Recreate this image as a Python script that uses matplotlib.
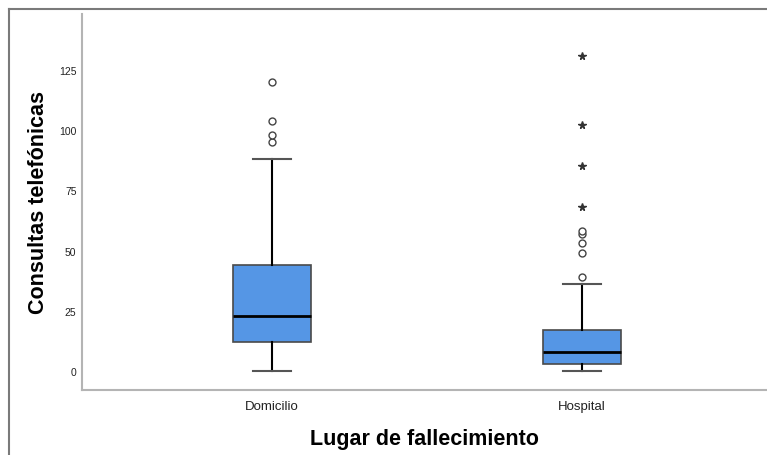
import matplotlib.pyplot as plt
from matplotlib.lines import Line2D

# groups and summary values for each box
grupos = ["Domicilio", "Hospital"]
q1 = [12, 3]
mediana = [23, 8]
q3 = [44, 17]
bigote_inf = [0, 0]
bigote_sup = [88, 36]
# outliers (circles) and extreme values (stars)
atipicos = [[95, 98, 104, 120], [39, 49, 53, 57, 58]]
extremos = [[], [68, 85, 102, 131]]
yticks = [0, 25, 50, 75, 100, 125]

plt.rcParams["font.family"] = ["Liberation Sans", "DejaVu Sans"]

fig = plt.figure(figsize=(7.67, 4.56), dpi=100)
ax = fig.add_axes([82 / 767, 65 / 456, 685 / 767, 376 / 456])

stats = []
for i, g in enumerate(grupos):
    stats.append({
        "label": g, "q1": q1[i], "med": mediana[i], "q3": q3[i],
        "whislo": bigote_inf[i], "whishi": bigote_sup[i], "fliers": atipicos[i],
    })

posiciones = [1, 2]
ax.bxp(stats, positions=posiciones, widths=0.252, patch_artist=True,
       boxprops=dict(facecolor="#5596e5", edgecolor="#4a4a4a", linewidth=1.2),
       medianprops=dict(color="black", linewidth=2),
       whiskerprops=dict(color="black", linewidth=1.5),
       capprops=dict(color="#555555", linewidth=1.5),
       capwidths=0.125,
       flierprops=dict(marker="o", markersize=5, markerfacecolor="white",
                       markeredgecolor="#444444", markeredgewidth=1.0))

for pos, vals in zip(posiciones, extremos):
    if vals:
        ax.plot([pos] * len(vals), vals, linestyle="none", marker="*",
                markersize=5.5, color="#333333")

ax.set_xlim(1 - 190 / 310, 2 + 185 / 310)
ax.set_ylim(-7.9, 148.3)
ax.set_yticks(yticks)
ax.set_yticklabels([str(t) for t in yticks], fontsize=7.5)
ax.set_xticks(posiciones)
ax.set_xticklabels(grupos, fontsize=9.5)
ax.tick_params(length=0, colors="#222222")
ax.tick_params(axis="y", pad=4)
ax.tick_params(axis="x", pad=7)

for s in ["top", "right"]:
    ax.spines[s].set_visible(False)
for s in ["left", "bottom"]:
    ax.spines[s].set_color("#b4b4b4")
    ax.spines[s].set_linewidth(1.5)

ax.set_ylabel("Consultas telefónicas", fontsize=15.5, fontweight="bold", labelpad=7)
ax.set_xlabel("Lugar de fallecimiento", fontsize=15.5, fontweight="bold", labelpad=12)

# outer chart frame
fig.add_artist(Line2D([9 / 767, 1.0], [1 - 10 / 456, 1 - 10 / 456],
                      transform=fig.transFigure, color="#7a7a7a", linewidth=1.5))
fig.add_artist(Line2D([9 / 767, 9 / 767], [0, 1 - 10 / 456],
                      transform=fig.transFigure, color="#7a7a7a", linewidth=1.5))

fig.savefig("out.png", dpi=100)
